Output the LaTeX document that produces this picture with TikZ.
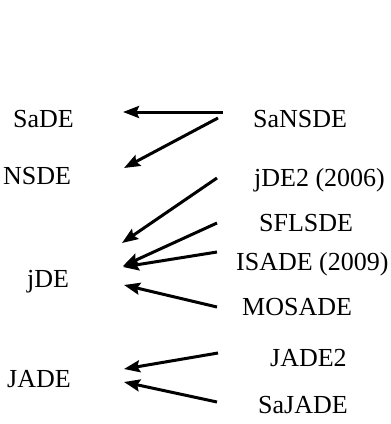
\documentclass[tikz,border=0pt]{standalone}
\usepackage{fontspec}
\setmainfont{Liberation Serif}
\usetikzlibrary{arrows.meta}
\begin{document}
\begin{tikzpicture}[x=1pt,y=-1pt,
  lbl/.style={anchor=base west,inner sep=0pt,font=\fontsize{26}{30}\selectfont},
  arr/.style={line width=3pt,-{Stealth[length=16pt,width=12pt,inset=2.5pt]}}]
\useasboundingbox (0,0) rectangle (391,424);
% left column
\node[lbl] (sade) at (13,127) {SaDE};
\node[lbl] (nsde) at (3,184.5) {NSDE};
\node[lbl] (jde) at (27,287) {jDE};
\node[lbl] (jade) at (7,387.5) {JADE};
% right column
\node[lbl] (sansde) at (253,127) {SaNSDE};
\node[lbl] (jde2) at (254,186) {jDE2 (2006)};
\node[lbl] (sflsde) at (259,231.5) {SFLSDE};
\node[lbl] (isade) at (236,270) {ISADE (2009)};
\node[lbl] (mosade) at (242,315.5) {MOSADE};
\node[lbl] (jade2) at (270,366) {JADE2};
\node[lbl] (sajade) at (258,413) {SaJADE};
% arrow end points
\coordinate (s1) at (223,112);  \coordinate (t1) at (123,112);
\coordinate (s2) at (218,118);  \coordinate (t2) at (124,168);
\coordinate (s3) at (217,178);  \coordinate (t3) at (122,243);
\coordinate (s4) at (217,223);  \coordinate (t4) at (123,266);
\coordinate (s5) at (217,252);  \coordinate (t5) at (123,267);
\coordinate (s6) at (217,307);  \coordinate (t6) at (124,285);
\coordinate (s7) at (218,353);  \coordinate (t7) at (124,369);
\coordinate (s8) at (217,402);  \coordinate (t8) at (124,382);
\draw[arr] (s1) -- (t1);
\draw[arr] (s2) -- (t2);
\draw[arr] (s3) -- (t3);
\draw[arr] (s4) -- (t4);
\draw[arr] (s5) -- (t5);
\draw[arr] (s6) -- (t6);
\draw[arr] (s7) -- (t7);
\draw[arr] (s8) -- (t8);
\end{tikzpicture}
\end{document}
